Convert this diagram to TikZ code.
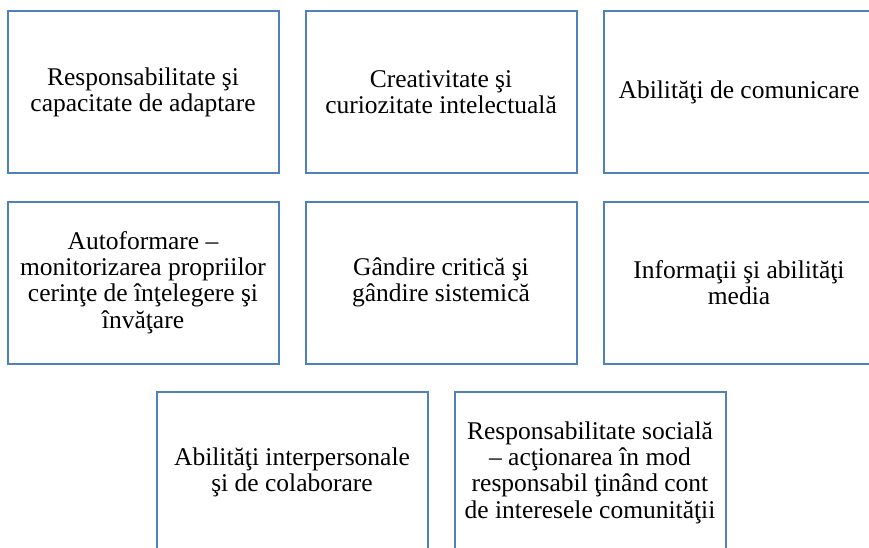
\documentclass[tikz,border=0pt]{standalone}
\usepackage{fontspec}
\setmainfont{Liberation Serif}
\usetikzlibrary{positioning}
\definecolor{boxblue}{RGB}{79,129,189}

\begin{document}
\begin{tikzpicture}[x=1pt,y=-1pt,node distance=26pt and 25pt,
	skill/.style={draw=boxblue,line width=2pt,minimum width=271pt,minimum height=162pt,
	inner sep=0pt,align=center,font=\fontsize{25.5}{26.3}\selectfont}]
\useasboundingbox (0,0) rectangle (869,548);
\clip (0,0) rectangle (869,548);
\node[skill] (resp) at (143,92.5) {Responsabilitate şi\\capacitate de adaptare};
\node[skill,right=of resp] (creat) {Creativitate şi\\curiozitate intelectuală};
\node[skill,right=of creat] (comun) {Abilităţi de comunicare};
\node[skill,below=of resp] (autof) {Autoformare --\\monitorizarea propriilor\\cerinţe de înţelegere şi\\învăţare};
\node[skill,below=of creat] (gand) {Gândire critică şi\\gândire sistemică};
\node[skill,below=of comun] (media) {Informaţii şi abilităţi\\media};
\node[skill] (inter) at (292,472.5) {Abilităţi interpersonale\\şi de colaborare};
\node[skill,right=of inter] (social) {Responsabilitate socială\\-- acţionarea în mod\\responsabil ţinând cont\\de interesele comunităţii};
\end{tikzpicture}
\end{document}
